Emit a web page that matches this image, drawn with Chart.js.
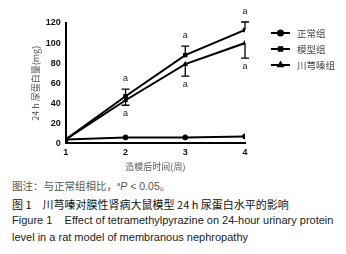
<!DOCTYPE html>
<html>
<head>
<meta charset="utf-8">
<script src="https://cdn.jsdelivr.net/npm/chart.js@4"></script>
<style>
  body { margin: 0; background: #fff; width: 346px; height: 254px; overflow: hidden; position: relative; }
  #wrap { position: absolute; left: 0; top: 0; width: 346px; height: 176px; }
  .cap { position: absolute; left: 12px; white-space: nowrap; font-family: "Liberation Sans", "Noto Sans CJK SC", sans-serif; color: #222; }
  #c1 { top: 178px; font-size: 10.5px; color: #555; font-family: "Noto Sans CJK SC", sans-serif; }
  #c2 { top: 196px; font-size: 11px; font-family: "Noto Sans CJK SC", sans-serif; color: #111; }
  #c3 { top: 214px; font-size: 11px; }
  #c4 { top: 231px; font-size: 11px; }
</style>
</head>
<body>
<div id="wrap"><canvas id="chart"></canvas></div>
<div class="cap" id="c1">图注：与正常组相比，<sup style="font-size:6px;font-family:'Liberation Sans'">a</sup><i style="font-family:'Liberation Sans'">P</i><span style="font-family:'Liberation Sans'"> &lt; 0.05</span>。</div>
<div class="cap" id="c2">图 1　川芎嗪对膜性肾病大鼠模型 24 h 尿蛋白水平的影响</div>
<div class="cap" id="c3">Figure 1&nbsp;&nbsp;&nbsp; Effect of tetramethylpyrazine on 24-hour urinary protein</div>
<div class="cap" id="c4">level in a rat model of membranous nephropathy</div>
<script>
// weeks after modelling
const weeks = [1, 2, 3, 4];
const seriesNames = ['正常组', '模型组', '川芎嗪组'];
const normalVals = [4, 6, 6, 7];
const modelVals = [4, 47, 88, 113];
const tmpVals = [4, 43, 79, 100];
// error bars: model drawn upward, tmp drawn downward
const modelErr = [0, 7, 9, 8];
const tmpErr = [0, 5, 12, 15];
// significance marks ("a")
const modelSig = [false, true, true, true];
const tmpSig = [false, true, true, true];
const yTicks = [0, 20, 40, 60, 80, 100, 120];

function pts(vals) {
  return weeks.map((w, i) => ({ x: w, y: vals[i] }));
}

const extras = {
  id: 'extras',
  afterDatasetsDraw(chart) {
    const ctx = chart.ctx;
    const xs = chart.scales.x, ys = chart.scales.y;
    ctx.save();
    ctx.strokeStyle = '#000';
    ctx.lineWidth = 1.3;
    function bar(vals, errs, dir) {
      weeks.forEach((w, i) => {
        if (!errs[i]) return;
        const px = xs.getPixelForValue(w);
        const y0 = ys.getPixelForValue(vals[i]);
        const y1 = ys.getPixelForValue(vals[i] + dir * errs[i]);
        ctx.beginPath();
        ctx.moveTo(px, y0); ctx.lineTo(px, y1);
        ctx.moveTo(px - 4, y1); ctx.lineTo(px + 4, y1);
        ctx.stroke();
      });
    }
    bar(modelVals, modelErr, 1);
    bar(tmpVals, tmpErr, -1);

    ctx.fillStyle = '#222';
    ctx.font = '9px "Liberation Sans", sans-serif';
    ctx.textAlign = 'center';
    weeks.forEach((w, i) => {
      const px = xs.getPixelForValue(w);
      if (modelSig[i]) {
        ctx.textBaseline = 'bottom';
        ctx.fillText('a', px, ys.getPixelForValue(modelVals[i] + modelErr[i]) - 6);
      }
      if (tmpSig[i]) {
        ctx.textBaseline = 'top';
        ctx.fillText('a', px, ys.getPixelForValue(tmpVals[i] - tmpErr[i]) + 4);
      }
    });

    // legend
    const styles = ['circle', 'rect', 'triangle'];
    ctx.textAlign = 'left';
    ctx.textBaseline = 'middle';
    ctx.font = '9.5px "Noto Sans CJK SC", sans-serif';
    seriesNames.forEach((name, i) => {
      const ly = 33 + i * 16;
      ctx.beginPath();
      ctx.lineWidth = 2;
      ctx.moveTo(271, ly); ctx.lineTo(290, ly);
      ctx.stroke();
      ctx.fillStyle = '#000';
      Chart.helpers.drawPoint(ctx, { pointStyle: styles[i], radius: 2.5, borderWidth: 1 }, 280.5, ly);
      ctx.fillStyle = '#444';
      ctx.fillText(name, 297, ly);
    });
    ctx.restore();
  }
};

const mk = (label, vals, style) => ({
  label: label,
  data: pts(vals),
  borderColor: '#000',
  backgroundColor: '#000',
  borderWidth: 2,
  pointStyle: style,
  pointRadius: 2.5,
  pointBorderWidth: 1,
  tension: 0
});

new Chart(document.getElementById('chart'), {
  type: 'line',
  data: {
    datasets: [
      mk(seriesNames[0], normalVals, 'circle'),
      mk(seriesNames[1], modelVals, 'rect'),
      mk(seriesNames[2], tmpVals, 'triangle')
    ]
  },
  options: {
    responsive: true,
    maintainAspectRatio: false,
    animation: false,
    layout: { padding: { left: 26, right: 101, top: 23, bottom: 0 } },
    plugins: { legend: { display: false }, tooltip: { enabled: false } },
    scales: {
      x: {
        type: 'linear', min: 1, max: 4,
        afterBuildTicks: s => { s.ticks = weeks.map(v => ({ value: v })); },
        grid: { display: false, drawTicks: true, tickLength: 4, tickColor: '#000', tickWidth: 2 },
        border: { color: '#000', width: 2 },
        ticks: { color: '#111', font: { size: 9, weight: 'bold', family: '"Liberation Sans", sans-serif' }, padding: 0 },
        title: { display: true, text: '造模后时间(周)', color: '#555', font: { size: 9, family: '"Noto Sans CJK SC", sans-serif' }, padding: { top: 3 } }
      },
      y: {
        min: 0, max: 120,
        afterBuildTicks: s => { s.ticks = yTicks.map(v => ({ value: v })); },
        grid: { display: false, drawTicks: true, tickLength: 4, tickColor: '#000', tickWidth: 2 },
        border: { color: '#000', width: 2 },
        ticks: { color: '#111', font: { size: 9, weight: 'bold', family: '"Liberation Sans", sans-serif' }, padding: 1 },
        title: { display: true, text: '24 h 尿蛋白量(mg)', color: '#555', font: { size: 9, family: '"Noto Sans CJK SC", sans-serif' }, padding: { bottom: 4 } }
      }
    }
  },
  plugins: [extras]
});
</script>
</body>
</html>
